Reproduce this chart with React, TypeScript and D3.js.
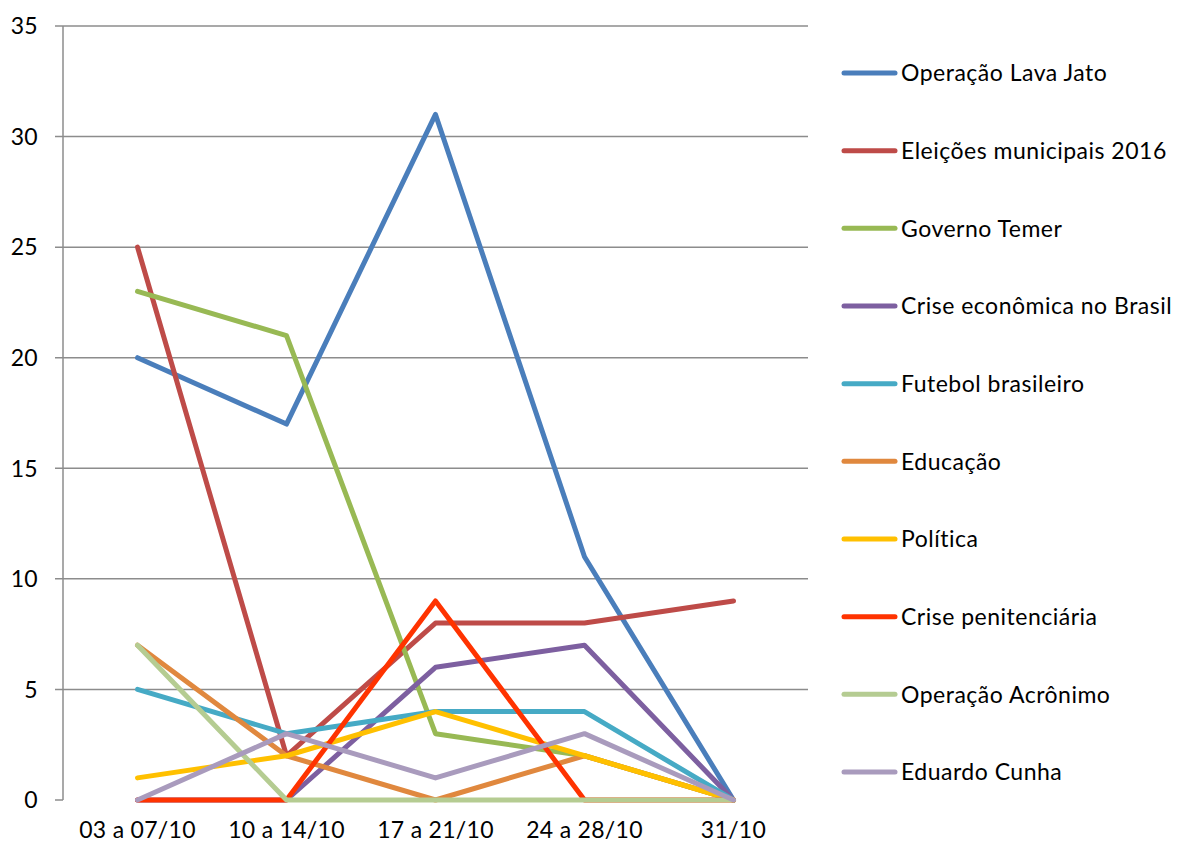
import React from "react";
import * as d3 from "d3";

const categories = ["03 a 07/10", "10 a 14/10", "17 a 21/10", "24 a 28/10", "31/10"];
const seriesNames = [
  "Operação Lava Jato",
  "Eleições municipais 2016",
  "Governo Temer",
  "Crise econômica no Brasil",
  "Futebol brasileiro",
  "Educação",
  "Política",
  "Crise penitenciária",
  "Operação Acrônimo",
  "Eduardo Cunha",
];
const lavaJato = [20, 17, 31, 11, 0];
const eleicoes = [25, 2, 8, 8, 9];
const governoTemer = [23, 21, 3, 2, 0];
const criseEconomica = [0, 0, 6, 7, 0];
const futebol = [5, 3, 4, 4, 0];
const educacao = [7, 2, 0, 2, 0];
const politica = [1, 2, 4, 2, 0];
const crisePenitenciaria = [0, 0, 9, 0, 0];
const acronimo = [7, 0, 0, 0, 0];
const eduardoCunha = [0, 3, 1, 3, 0];
const yTicks = [0, 5, 10, 15, 20, 25, 30, 35];

const seriesValues = [
  lavaJato, eleicoes, governoTemer, criseEconomica, futebol,
  educacao, politica, crisePenitenciaria, acronimo, eduardoCunha,
];
const colors = [
  "#4A7EBB", "#BE4B48", "#98B954", "#7D5FA0", "#46AAC5",
  "#E0883E", "#FFC000", "#FF3300", "#B5CC92", "#A99BBD",
];

const W = 1178, H = 845;
const left = 63, right = 808, top = 26, bottom = 800;
const font = "Lato, 'Open Sans', sans-serif";

export default function App() {
  const x = d3.scaleBand<string>().domain(categories).range([left, right]);
  const y = d3.scaleLinear().domain([0, 35]).range([bottom, top]);
  const line = d3
    .line<number>()
    .x((_, i) => (x(categories[i]) as number) + x.bandwidth() / 2)
    .y((d) => y(d));
  const legendY = d3.scalePoint<string>().domain(seriesNames).range([73, 772]);

  return (
    <svg width={W} height={H} style={{ position: "absolute", left: 0, top: 0, background: "#fff" }}>
      <rect width={W} height={H} fill="#fff" />
      {yTicks.filter((t) => t > 0).map((t) => (
        <line key={"g" + t} x1={55} x2={right} y1={y(t)} y2={y(t)} stroke="#8c8c8c" strokeWidth={1.5} />
      ))}
      <line x1={55} x2={left} y1={y(0)} y2={y(0)} stroke="#8c8c8c" strokeWidth={1.5} />
      <line x1={left} x2={left} y1={top} y2={bottom} stroke="#8c8c8c" strokeWidth={1.5} />
      {yTicks.map((t) => (
        <text key={"t" + t} x={38} y={y(t)} dy="0.36em" textAnchor="end" fontSize={23} letterSpacing={0.3} fontFamily={font} fill="#000">
          {t}
        </text>
      ))}
      {categories.map((c) => (
        <text key={c} x={(x(c) as number) + x.bandwidth() / 2} y={838} textAnchor="middle" fontSize={23} letterSpacing={0.3} fontFamily={font} fill="#000">
          {c}
        </text>
      ))}
      {seriesValues.map((vals, i) => (
        <path key={seriesNames[i]} d={line(vals) as string} fill="none" stroke={colors[i]} strokeWidth={5} strokeLinejoin="round" strokeLinecap="round" />
      ))}
      {seriesNames.map((n, i) => (
        <g key={"l" + n}>
          <line x1={844} x2={895} y1={legendY(n)} y2={legendY(n)} stroke={colors[i]} strokeWidth={5} strokeLinecap="round" />
          <text x={901} y={legendY(n)} dy="0.36em" fontSize={23} letterSpacing={0.5} fontFamily={font} fill="#000">
            {n}
          </text>
        </g>
      ))}
    </svg>
  );
}
